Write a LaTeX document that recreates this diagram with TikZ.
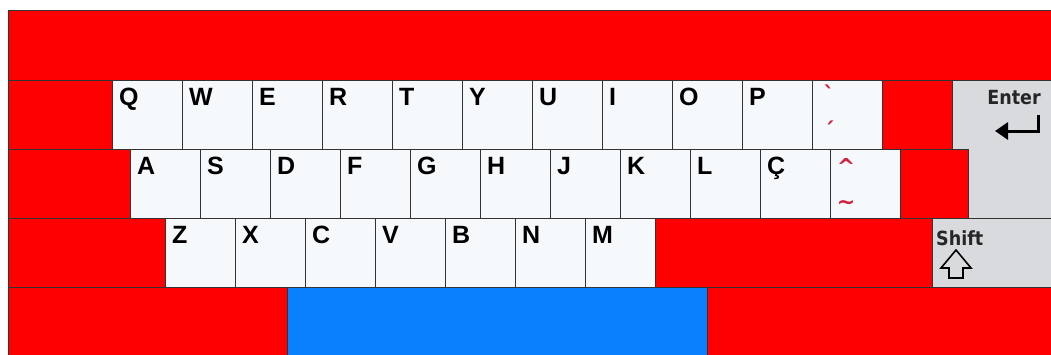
\documentclass[tikz,border=0pt]{standalone}
\usepackage{fontspec}
\setmainfont{Liberation Sans}
\newfontfamily\dejavu{DejaVu Sans}
\newfontfamily\dejavunarrow[FakeStretch=0.9]{DejaVu Sans}
\usepackage{tikz}
\usetikzlibrary{arrows.meta, positioning}

\definecolor{padred}{HTML}{FF0000}
\definecolor{spaceblue}{HTML}{0A80FF}
\definecolor{fngrey}{HTML}{D8DADD}
\definecolor{capwhite}{HTML}{F6F9FB}
\definecolor{capline}{HTML}{333333}
\definecolor{deadred}{HTML}{D0203A}

\tikzset{
    keycap/.style={draw=capline, line width=0.8pt, fill=capwhite, anchor=north west,
        inner sep=0pt, minimum width=70pt, minimum height=69pt},
    capname/.style={font=\bfseries\fontsize{25}{25}\selectfont, anchor=base west, inner sep=0pt},
    deadmark/.style={font=\dejavu\bfseries\fontsize{22}{22}\selectfont, text=deadred, inner sep=0pt},
    fnname/.style={font=\dejavunarrow\bfseries\fontsize{19.5}{19.5}\selectfont, text=black!85, inner sep=0pt},
    filler/.style={draw=capline, line width=0.8pt, fill=padred},
}

\begin{document}
\begin{tikzpicture}[x=1pt, y=-1pt]
\useasboundingbox (0,0) rectangle (1051,354);
\fill[white] (0,0) rectangle (1051,354);

% red fillers
\draw[filler] (8,10) rectangle (1060,80);
\draw[filler] (8,80) rectangle (112,149);
\draw[filler] (8,149) rectangle (130,218);
\draw[filler] (8,218) rectangle (165,287);
\draw[filler] (8,287) rectangle (287,360);
\draw[filler] (882,80) rectangle (952,149);
\draw[filler] (900,149) rectangle (968,218);
\draw[filler] (655,218) rectangle (932,287);
\draw[filler] (707,287) rectangle (1060,360);

% space bar
\draw[draw=capline, line width=0.8pt, fill=spaceblue] (287,287) rectangle (707,360);

% letter rows
\foreach \k [count=\i from 0] in {Q,W,E,R,T,Y,U,I,O,P} {
    \node[keycap] (top\i) at (112+70*\i,80) {};
    \node[capname] at ([shift={(7,25)}]top\i.north west) {\k};
}
\foreach \k [count=\i from 0] in {A,S,D,F,G,H,J,K,L,Ç} {
    \node[keycap] (home\i) at (130+70*\i,149) {};
    \node[capname] at ([shift={(7,25)}]home\i.north west) {\k};
}
\foreach \k [count=\i from 0] in {Z,X,C,V,B,N,M} {
    \node[keycap] (low\i) at (165+70*\i,218) {};
    \node[capname] at ([shift={(7,25)}]low\i.north west) {\k};
}

% dead keys
\node[keycap] (grave) at (812,80) {};
\node[deadmark] (gravemark) at (829,94) {\symbol{"60}};
\node[deadmark] (acutemark) at (829,130) {\symbol{"B4}};
\node[keycap] (tilde) at (830,149) {};
\node[deadmark] (caretmark) at (846,166) {\symbol{"5E}};
\node[deadmark] (tildemark) at (846,205) {\symbol{"7E}};

% enter
\draw[draw=capline, line width=0.8pt, fill=fngrey]
    (952,80) -- (1060,80) -- (1060,218) -- (968,218) -- (968,149) -- (952,149) -- cycle;
\node[fnname, anchor=base] (entername) at (1014,104) {Enter};
\coordinate (enterup) at (1038,115);
\coordinate (entertip) at (995,131);
\draw[line width=3pt, -{Triangle[length=13pt, width=17pt]}] (enterup) |- (entertip);

% shift
\draw[draw=capline, line width=0.8pt, fill=fngrey] (932,218) rectangle (1060,287);
\node[fnname, anchor=base west] (shiftname) at (936,245) {Shift};
\draw[line width=1.6pt, line join=miter]
    (956,250) -- (971,268) -- (963,268) -- (963,278) -- (949,278) -- (949,268) -- (941,268) -- cycle;
\end{tikzpicture}
\end{document}
